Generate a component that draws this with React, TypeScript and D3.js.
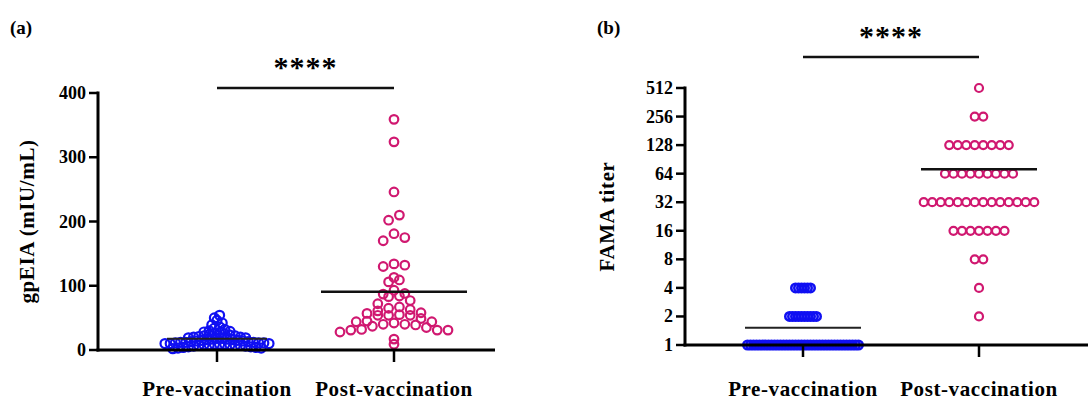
import * as d3 from "d3";

// group names
const groups = ["Pre-vaccination", "Post-vaccination"];

// (a) gpEIA values, mIU/mL
const preA = [
  54, 50, 46, 42, 39, 36, 34, 32, 30, 29, 28, 27, 26, 25, 24,
  23, 22, 22, 21, 20, 20, 19, 19, 18, 18, 17, 17, 16, 16, 15, 15, 14, 14,
  13, 13, 12, 12, 12, 11, 11, 11, 10, 10, 10, 9, 9, 9, 8, 8, 8, 7, 7, 7, 6, 6, 5, 5, 4, 4, 3, 3, 2,
];
const postA = [
  359, 324, 246, 210, 202, 181, 175, 170, 134, 132, 130, 113, 109, 106, 93, 88, 87,
  84, 83, 77, 72, 67, 65, 63, 61, 58, 57, 55, 54, 54, 54, 49, 45, 44, 44, 42, 40, 40,
  39, 37, 35, 32, 31, 31, 31, 28, 17, 9,
];
const ticksA = [0, 100, 200, 300, 400];

// (b) FAMA titers
const preB = [
  1, 1, 1, 1, 1, 1, 1, 1, 1, 1, 1, 1, 1, 1, 1, 1, 1, 1, 1,
  1, 1, 1, 1, 1, 1, 1, 1, 1, 1, 1, 1, 1, 1, 1, 1, 1, 1, 1,
  2, 2, 2, 2, 2, 2, 2, 2, 2, 2,
  4, 4, 4, 4, 4, 4,
];
const postB = [
  512,
  256, 256,
  128, 128, 128, 128, 128, 128, 128, 128,
  64, 64, 64, 64, 64, 64, 64, 64, 64,
  32, 32, 32, 32, 32, 32, 32, 32, 32, 32, 32, 32, 32, 32,
  16, 16, 16, 16, 16, 16, 16,
  8, 8,
  4,
  2,
];
const ticksB = [1, 2, 4, 8, 16, 32, 64, 128, 256, 512];

const BLUE = "#1010f2";
const PINK = "#d01870";
const FONT = "'Liberation Serif', 'Times New Roman', serif";

// GraphPad-like scatter: bin by pixel height, centre each bin, highest values in the middle
function swarm(vals: number[], y: (v: number) => number, base: number, binH: number, sMax: number, span: number) {
  const bins = d3.group(vals, (v) => Math.floor((base - y(v) + 0.01) / binH));
  const maxN = d3.max(Array.from(bins.values()), (b) => b.length) ?? 1;
  const s = maxN > 1 ? Math.min(sMax, span / (maxN - 1)) : sMax;
  const out: { v: number; dx: number }[] = [];
  bins.forEach((b) => {
    const n = b.length;
    const slots = d3.range(n).map((k) => (k - (n - 1) / 2) * s).sort((p, q) => Math.abs(p) - Math.abs(q) || q - p);
    const sorted = b.slice().sort((p, q) => q - p);
    sorted.forEach((v, k) => out.push({ v, dx: slots[k] }));
  });
  return out;
}

function Panel({ label, x, y, ticks, axisX, axisEnd, pre, post, yLabel, preBin, postBin, preSpan, postSpan, preS, postS, r, sw, sig, meanHalf }: any) {
  const [y0, y1] = y.range();
  const prePts = swarm(pre, y, y0, preBin, preS, preSpan);
  const postPts = swarm(post, y, y0, postBin, postS, postSpan);
  const preMean = d3.mean(pre) as number;
  const postMean = d3.mean(post) as number;
  const xPre = x(groups[0]);
  const xPost = x(groups[1]);
  return (
    <g>
      <text x={label.x} y={label.y} fontFamily={FONT} fontWeight="bold" fontSize={19} dominantBaseline="central">{label.text}</text>
      {/* significance bar */}
      <line x1={xPre} x2={xPost} y1={sig.y} y2={sig.y} stroke="#111" strokeWidth={2.5} />
      <text x={(xPre + xPost) / 2} y={sig.y - 11} textAnchor="middle" fontFamily={FONT} fontWeight="bold" fontSize={30} letterSpacing={1}>****</text>
      {/* points */}
      {prePts.map((d, i) => (
        <circle key={"a" + i} cx={xPre + d.dx} cy={y(d.v)} r={r[0]} fill="none" stroke={BLUE} strokeWidth={sw[0]} />
      ))}
      {postPts.map((d, i) => (
        <circle key={"b" + i} cx={xPost + d.dx} cy={y(d.v)} r={r[1]} fill="none" stroke={PINK} strokeWidth={sw[1]} />
      ))}
      {/* mean lines */}
      <line x1={xPre - meanHalf[0]} x2={xPre + meanHalf[0]} y1={y(preMean)} y2={y(preMean)} stroke="#222" strokeWidth={2} />
      <line x1={xPost - meanHalf[1]} x2={xPost + meanHalf[1]} y1={y(postMean)} y2={y(postMean)} stroke="#111" strokeWidth={2.6} />
      {/* axes */}
      <line x1={axisX} x2={axisX} y1={y1 - 1.5} y2={y0 + 1.5} stroke="#000" strokeWidth={3} />
      <line x1={axisX - 1.5} x2={axisEnd} y1={y0} y2={y0} stroke="#000" strokeWidth={3} />
      {ticks.map((t: number) => (
        <g key={t}>
          <line x1={axisX - 9} x2={axisX} y1={y(t)} y2={y(t)} stroke="#000" strokeWidth={2.5} />
          <text x={axisX - 12} y={y(t)} textAnchor="end" dominantBaseline="central" fontFamily={FONT} fontWeight="bold" fontSize={18}>{t}</text>
        </g>
      ))}
      {groups.map((g) => (
        <g key={g}>
          <line x1={x(g)} x2={x(g)} y1={y0} y2={y0 + 12} stroke="#000" strokeWidth={2.5} />
          <text x={x(g)} y={389} textAnchor="middle" dominantBaseline="central" fontFamily={FONT} fontWeight="bold" fontSize={21} letterSpacing={0.6}>{g}</text>
        </g>
      ))}
      <text transform={`translate(${yLabel.x},${(y0 + y1) / 2}) rotate(-90)`} textAnchor="middle" dominantBaseline="central" fontFamily={FONT} fontWeight="bold" fontSize={21} letterSpacing={0.6}>{yLabel.text}</text>
    </g>
  );
}

export default function App() {
  const xA = d3.scalePoint<string>().domain(groups).range([217, 394]);
  const yA = d3.scaleLinear().domain([0, 400]).range([350, 93]);
  const xB = d3.scalePoint<string>().domain(groups).range([803, 979]);
  const yB = d3.scaleLog().base(2).domain([1, 512]).range([345, 88]);
  return (
    <svg width={1088} height={403} style={{ position: "absolute", left: 0, top: 0, background: "#fff" }}>
      <Panel label={{ text: "(a)", x: 10, y: 27 }} x={xA} y={yA} ticks={ticksA}
        axisX={98} axisEnd={495} pre={preA} post={postA} yLabel={{ text: "gpEIA (mIU/mL)", x: 27 }}
        preBin={6} postBin={9} preS={7} postS={10.8} preSpan={104} postSpan={110}
        r={[4.5, 4.3]} sw={[2.2, 2.2]} sig={{ y: 88 }} meanHalf={[50, 73]} />
      <Panel label={{ text: "(b)", x: 597, y: 27 }} x={xB} y={yB} ticks={ticksB}
        axisX={685} axisEnd={1088} pre={preB} post={postB} yLabel={{ text: "FAMA titer", x: 607 }}
        preBin={9} postBin={9} preS={8.5} postS={8.5} preSpan={111} postSpan={111}
        r={[4.2, 4]} sw={[2.6, 2.2]} sig={{ y: 57 }} meanHalf={[58, 58]} />
    </svg>
  );
}
